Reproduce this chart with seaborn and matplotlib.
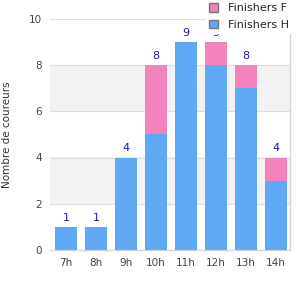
import pandas as pd
import matplotlib.pyplot as plt
import seaborn as sns
from matplotlib.patches import Patch

# Données
heures = ["7h", "8h", "9h", "10h", "11h", "12h", "13h", "14h"]
finishers_h = [1, 1, 4, 5, 9, 8, 7, 3]
finishers_f = [0, 0, 0, 3, 0, 1, 1, 1]

df = pd.DataFrame({"Heure": heures, "H": finishers_h, "F": finishers_f})
df["Total"] = df["H"] + df["F"]

sns.set_style("white")
plt.rcParams["font.family"] = ["DejaVu Sans"]

fig = plt.figure(figsize=(3, 3), dpi=100)
ax = fig.add_axes([0.167, 0.167, 0.8, 0.77])

bleu = "#60a8f4"
rose = "#f383bd"

# Bandes grises alternées
for y0 in [2, 6]:
    ax.axhspan(y0, y0 + 2, color="#f2f2f2", zorder=0, lw=0)

sns.barplot(data=df, x="Heure", y="Total", color=rose, saturation=1, width=0.73,
            linewidth=0, ax=ax, zorder=2)
sns.barplot(data=df, x="Heure", y="H", color=bleu, saturation=1, width=0.73,
            linewidth=0, ax=ax, zorder=3)

ax.bar_label(ax.containers[0], labels=[str(v) for v in df["Total"]], padding=3,
             fontsize=8, color="#1a1aa6")

ax.set_ylim(0, 10)
ax.set_xlim(-0.53, 7.47)
ax.set_yticks(range(0, 11, 2))
ax.yaxis.grid(True, color="#dddddd", lw=0.8, zorder=1)
ax.set_axisbelow(True)
ax.set_xlabel("")
ax.set_ylabel("Nombre de coureurs", fontsize=7.5, color="#333333", labelpad=12)
ax.tick_params(axis="both", labelsize=7.5, colors="#444444", length=0, pad=6)

for side in ["top", "left"]:
    ax.spines[side].set_visible(False)
for side in ["right", "bottom"]:
    ax.spines[side].set_color("#d5d5d5")
    ax.spines[side].set_linewidth(1)

handles = [Patch(facecolor=rose, edgecolor="#777777", label="Finishers F"),
           Patch(facecolor=bleu, edgecolor="#777777", label="Finishers H")]
leg = fig.legend(handles=handles, loc="upper left", bbox_to_anchor=(0.675, 1.01),
                 frameon=True, fontsize=8, handlelength=0.8, handleheight=0.8,
                 handletextpad=0.9, labelspacing=0.6, borderpad=0.25, borderaxespad=0.3)
leg.get_frame().set_edgecolor("white")
leg.get_frame().set_facecolor("white")
leg.get_frame().set_alpha(1)
leg.set_zorder(10)

plt.savefig("out.png", dpi=100)
